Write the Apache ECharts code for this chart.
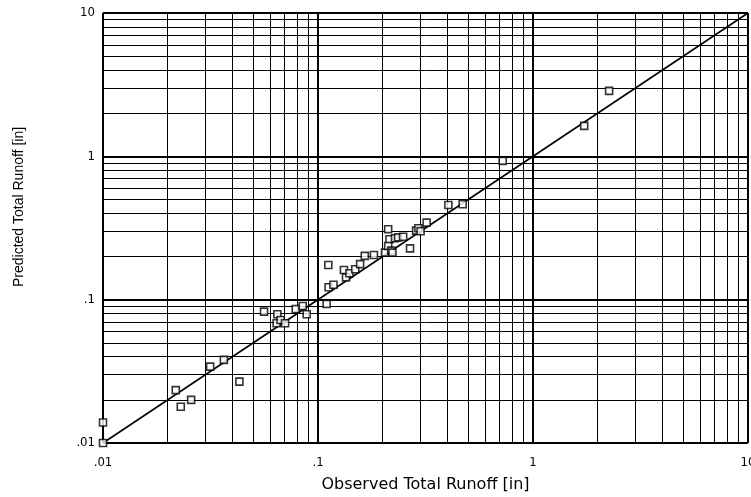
<!DOCTYPE html>
<html>
<head>
<meta charset="utf-8">
<script src="https://cdn.jsdelivr.net/npm/echarts@6/dist/echarts.min.js"></script>
<style>
  html, body { margin: 0; padding: 0; background: #fff; }
  #chart { width: 751px; height: 497px; }
</style>
</head>
<body>
<div id="chart"></div>
<script>
// Observed vs. predicted total runoff, inches (log-log)
const observed = [
  0.01, 0.01, 0.0218, 0.0230, 0.0257, 0.0315, 0.0365, 0.0431,
  0.0561, 0.0647, 0.0642, 0.0670, 0.0703, 0.0788, 0.0849, 0.0886,
  0.1097, 0.1117, 0.112, 0.118, 0.132, 0.135, 0.140, 0.149,
  0.157, 0.165, 0.182, 0.205, 0.212, 0.215, 0.212, 0.219,
  0.222, 0.228, 0.236, 0.249, 0.268, 0.286, 0.293, 0.300,
  0.320, 0.404, 0.471, 0.723, 1.73, 2.26
];
const predicted = [
  0.01, 0.0139, 0.0234, 0.0179, 0.0200, 0.0341, 0.0380, 0.0268,
  0.0825, 0.0791, 0.0684, 0.0722, 0.0684, 0.0861, 0.0904, 0.0791,
  0.0933, 0.1746, 0.122, 0.127, 0.161, 0.143, 0.153, 0.163,
  0.177, 0.202, 0.205, 0.213, 0.310, 0.264, 0.237, 0.220,
  0.213, 0.268, 0.272, 0.275, 0.228, 0.303, 0.315, 0.300,
  0.345, 0.458, 0.463, 0.929, 1.63, 2.86
];
// 1:1 reference line
const equalityLine = [[0.01, 0.01], [10, 10]];
// decade tick labels
const tickLabels = ['.01', '.1', '1', '10'];
const decades = [0.01, 0.1, 1, 10];
// minor grid multipliers within each decade
const minorSteps = [2, 3, 4, 5, 6, 7, 8, 9];

const minorValues = [];
decades.slice(0, 3).forEach(d => minorSteps.forEach(m => minorValues.push(+(d * m).toPrecision(3))));

function labelFor(v) {
  const i = Math.round(Math.log10(v)) + 2;
  return tickLabels[i] !== undefined ? tickLabels[i] : '';
}

const gridLines = [];
minorValues.forEach(v => {
  gridLines.push({ xAxis: v, lineStyle: { width: 1 } });
  gridLines.push({ yAxis: v, lineStyle: { width: 1 } });
});
decades.forEach(v => {
  gridLines.push({ xAxis: v, lineStyle: { width: 2 } });
  gridLines.push({ yAxis: v, lineStyle: { width: 2 } });
});

const chart = echarts.init(document.getElementById('chart'), null, { renderer: 'canvas' });
chart.setOption({
  animation: false,
  backgroundColor: '#fff',
  grid: {
    left: 103, right: 3, top: 13, bottom: 54,
    containLabel: false, outerBoundsMode: 'none'
  },
  xAxis: {
    type: 'log', logBase: 10, min: 0.01, max: 10,
    axisLine: { show: false }, axisTick: { show: false },
    splitLine: { show: false },
    axisLabel: {
      margin: 13, color: '#000', fontFamily: 'DejaVu Sans Condensed', fontSize: 13,
      formatter: labelFor, hideOverlap: false
    },
    name: 'Observed Total Runoff [in]', nameLocation: 'middle', nameGap: 34,
    nameTextStyle: { color: '#000', fontFamily: 'DejaVu Sans', fontSize: 16 }
  },
  yAxis: {
    type: 'log', logBase: 10, min: 0.01, max: 10,
    axisLine: { show: false }, axisTick: { show: false },
    splitLine: { show: false },
    axisLabel: {
      margin: 8, color: '#000', fontFamily: 'DejaVu Sans Condensed', fontSize: 13,
      formatter: labelFor
    }
  },
  graphic: [{
    type: 'text',
    rotation: Math.PI / 2,
    x: 12, y: 287,
    style: {
      text: 'Predicted Total Runoff [in]', fill: '#000',
      font: '14px "Liberation Sans"'
    }
  }],
  series: [
    {
      type: 'line', data: equalityLine, symbol: 'none', silent: true, z: 3,
      lineStyle: { color: '#000', width: 1.6 },
      markLine: {
        silent: true, symbol: 'none', label: { show: false },
        lineStyle: { color: '#000', type: 'solid' },
        data: gridLines, z: 1
      }
    },
    {
      type: 'scatter',
      data: observed.map((x, i) => [x, predicted[i]]),
      symbol: 'rect', symbolSize: 7, z: 4,
      itemStyle: { color: '#fff', borderColor: '#000', borderWidth: 1.6 }
    }
  ]
});
</script>
</body>
</html>
